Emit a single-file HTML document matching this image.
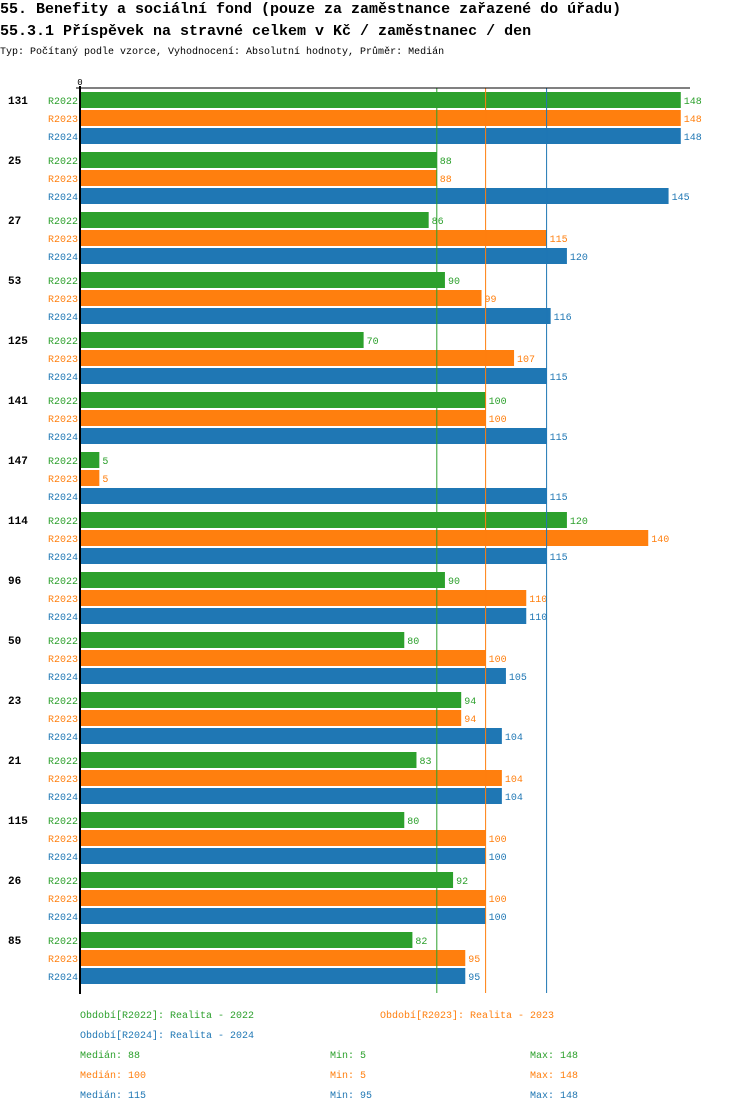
<!DOCTYPE html>
<html><head><meta charset="utf-8">
<style>
body{margin:0;background:#fff;width:750px;height:1112px;overflow:hidden;font-family:"Liberation Mono",monospace;}
svg text{font-family:"Liberation Mono","DejaVu Sans Mono",monospace;}
</style></head>
<body>
<svg id="chart" width="750" height="1112" xmlns="http://www.w3.org/2000/svg">
<text x="0" y="13" font-size="15" font-weight="bold" fill="#000">55. Benefity a sociální fond (pouze za zaměstnance zařazené do úřadu)</text>
<text x="0" y="35" font-size="15" font-weight="bold" fill="#000">55.3.1 Příspěvek na stravné celkem v Kč / zaměstnanec / den</text>
<text x="0" y="54" font-size="10" fill="#000">Typ: Počítaný podle vzorce, Vyhodnocení: Absolutní hodnoty, Průměr: Medián</text>
<g id="plot"></g>
<g id="legend" font-size="10">
<text x="80" y="1018" fill="#2ca02c">Období[R2022]: Realita - 2022</text>
<text x="380" y="1018" fill="#ff7f0e">Období[R2023]: Realita - 2023</text>
<text x="80" y="1038" fill="#1f77b4">Období[R2024]: Realita - 2024</text>
<text x="80" y="1058" fill="#2ca02c">Medián: 88</text>
<text x="330" y="1058" fill="#2ca02c">Min: 5</text>
<text x="530" y="1058" fill="#2ca02c">Max: 148</text>
<text x="80" y="1078" fill="#ff7f0e">Medián: 100</text>
<text x="330" y="1078" fill="#ff7f0e">Min: 5</text>
<text x="530" y="1078" fill="#ff7f0e">Max: 148</text>
<text x="80" y="1098" fill="#1f77b4">Medián: 115</text>
<text x="330" y="1098" fill="#1f77b4">Min: 95</text>
<text x="530" y="1098" fill="#1f77b4">Max: 148</text>
</g>
</svg>
<script>
const categories = ["131","25","27","53","125","141","147","114","96","50","23","21","115","26","85"];
const seriesNames = ["R2022","R2023","R2024"];
const r2022 = [148,88,86,90,70,100,5,120,90,80,94,83,80,92,82];
const r2023 = [148,88,115,99,107,100,5,140,110,100,94,104,100,100,95];
const r2024 = [148,145,120,116,115,115,115,115,110,105,104,104,100,100,95];
const medians = [88,100,115];
const colors = ["#2ca02c","#ff7f0e","#1f77b4"];
const series = [r2022,r2023,r2024];
const NS="http://www.w3.org/2000/svg";
const g=document.getElementById('plot');
const x=v=>79+v*4.066;
const groupTop=i=>92+i*60;
function mk(tag,attrs){const e=document.createElementNS(NS,tag);for(const k in attrs)e.setAttribute(k,attrs[k]);g.appendChild(e);return e;}
categories.forEach((c,i)=>{
  const t=mk('text',{x:8,y:groupTop(i)+12,'font-size':11,'font-weight':'bold',fill:'#000'});
  
  
  t.textContent=c;
  series.forEach((s,j)=>{
    const y=groupTop(i)+j*18;
    const l=mk('text',{x:78,y:y+12,'font-size':10,fill:colors[j],'text-anchor':'end'});
    
    
    l.textContent=seriesNames[j];
    const r=mk('rect',{x:81,y:y,width:Math.max(0,x(s[i])-81),height:16,fill:colors[j]});
    
    
    const v=mk('text',{x:x(s[i])+3,y:y+12,'font-size':10,fill:colors[j]});
    
    
    v.textContent=s[i];
  });
});
medians.forEach((m,j)=>{
  const ln=mk('line',{x1:x(m),x2:x(m),y1:88,y2:993,stroke:colors[j],'stroke-width':1});
  
  
});
const ax=mk('line',{x1:80,x2:80,y1:86,y2:994,stroke:'#000','stroke-width':2});


const tk=mk('line',{x1:76,x2:690,y1:88,y2:88,stroke:'#000','stroke-width':1});


const z=mk('text',{x:80,y:85,'font-size':9,fill:'#000','text-anchor':'middle'});


z.textContent='0';
</script>
</body></html>
